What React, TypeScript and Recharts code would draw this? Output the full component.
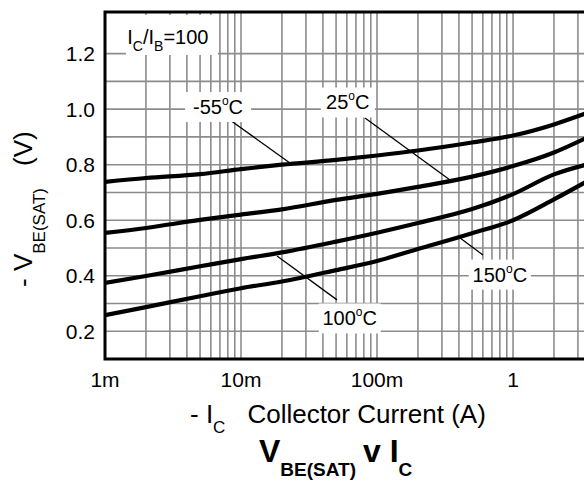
import React from "react";
import {
  LineChart,
  Line,
  XAxis,
  YAxis,
  CartesianGrid,
  ReferenceArea,
  ReferenceLine,
  ReferenceDot,
} from "recharts";

const FONT = "'Liberation Sans', Arial, Helvetica, sans-serif";

// collector current (A), log axis
const currents = [0.001, 0.002, 0.005, 0.01, 0.02, 0.05, 0.1, 0.2, 0.5, 1, 2, 3.44];
// -VBE(SAT) (V) per temperature
const vbeMinus55 = [0.738, 0.752, 0.766, 0.784, 0.8, 0.817, 0.833, 0.851, 0.88, 0.905, 0.945, 0.985];
const vbe25 = [0.554, 0.572, 0.601, 0.62, 0.639, 0.673, 0.695, 0.72, 0.757, 0.795, 0.844, 0.896];
const vbe100 = [0.374, 0.399, 0.434, 0.46, 0.484, 0.523, 0.555, 0.59, 0.64, 0.694, 0.765, 0.8];
const vbe150 = [0.258, 0.287, 0.326, 0.355, 0.379, 0.42, 0.453, 0.496, 0.553, 0.6, 0.675, 0.738];

const xTicks = [
  0.001, 0.002, 0.003, 0.004, 0.005, 0.006, 0.007, 0.008, 0.009,
  0.01, 0.02, 0.03, 0.04, 0.05, 0.06, 0.07, 0.08, 0.09,
  0.1, 0.2, 0.3, 0.4, 0.5, 0.6, 0.7, 0.8, 0.9,
  1, 2, 3,
];
const xTickLabels: Record<string, string> = { "0.001": "1m", "0.01": "10m", "0.1": "100m", "1": "1" };
const yTicks = [0.2, 0.3, 0.4, 0.5, 0.6, 0.7, 0.8, 0.9, 1.0, 1.1, 1.2];
const yTickLabels = ["0.2", "0.4", "0.6", "0.8", "1.0", "1.2"];

const X_DOMAIN = [0.001, 3.44];
const Y_DOMAIN = [0.1, 1.35];

// temperature callouts: label anchor (text centre) and leader line end on curve
const tempLabels = ["-55", "25", "100", "150"];
const labelAt = [
  { ic: 0.00678, v: 1.008 },
  { ic: 0.061, v: 1.024 },
  { ic: 0.063, v: 0.246 },
  { ic: 0.8, v: 0.404 },
];
const leaderFrom = [
  { ic: 0.0083, v: 0.961 },
  { ic: 0.0816, v: 0.968 },
  { ic: 0.0508, v: 0.313 },
  { ic: 0.601, v: 0.475 },
];
const leaderTo = [
  { ic: 0.0229, v: 0.806 },
  { ic: 0.344, v: 0.745 },
  { ic: 0.0184, v: 0.471 },
  { ic: 0.408, v: 0.536 },
];
const labelBoxW = [66, 54, 62, 62];

const data = currents.map((ic, i) => ({
  ic,
  m55: vbeMinus55[i],
  t25: vbe25[i],
  t100: vbe100[i],
  t150: vbe150[i],
}));

function TempLabel(props: any) {
  const { cx, cy, text, w } = props;
  if (cx == null || cy == null) return null;
  return (
    <g>
      <rect x={cx - w / 2} y={cy - 15} width={w} height={30} fill="#fff" />
      <text x={cx} y={cy + 7} textAnchor="middle" fontFamily={FONT} fontSize={20} fill="#000">
        {text}
        <tspan fontSize={12} dy={-9}>o</tspan>
        <tspan dy={9}>C</tspan>
      </text>
    </g>
  );
}

function RatioLabel(props: any) {
  const { cx, cy } = props;
  if (cx == null || cy == null) return null;
  return (
    <g>
      <rect x={cx - 42} y={cy - 22} width={92} height={40} fill="#fff" />
      <text x={cx} y={cy + 7} textAnchor="middle" fontFamily={FONT} fontSize={20} fill="#000">
        I
        <tspan fontSize={14} dy={7}>C</tspan>
        <tspan dy={-7}>/I</tspan>
        <tspan fontSize={14} dy={7}>B</tspan>
        <tspan dy={-7}>=100</tspan>
      </text>
    </g>
  );
}

function XTitles() {
  return (
    <g fontFamily={FONT} fill="#000">
      <text x={190} y={423} fontSize={26}>
        - I
        <tspan fontSize={17} dy={10}>C</tspan>
        <tspan dy={-10} dx={22}>Collector Current (A)</tspan>
      </text>
      <text x={259} y={462} fontSize={32} fontWeight="bold">
        V
        <tspan fontSize={19} dy={14}>BE(SAT)</tspan>
        <tspan dy={-14} dx={7}>v I</tspan>
        <tspan fontSize={19} dy={14}>C</tspan>
      </text>
    </g>
  );
}

function YTitle() {
  return (
    <text
      transform="translate(32 287) rotate(-90)"
      fontFamily={FONT}
      fontSize={26}
      fill="#000"
    >
      - V
      <tspan fontSize={17} dy={13}>BE(SAT)</tspan>
      <tspan dy={-13} dx={22}>(V)</tspan>
    </text>
  );
}

export default function App() {
  return (
    <div
      style={{
        position: "absolute",
        left: 0,
        top: 0,
        width: 584,
        height: 483,
        overflow: "hidden",
        background: "#fff",
        fontFamily: FONT,
      }}
    >
      <LineChart
        width={586}
        height={483}
        data={data}
        margin={{ top: 12, right: 0, left: 45, bottom: 84 }}
      >
        <CartesianGrid stroke="#8c8c8c" strokeWidth={1.6} />
        <XAxis
          dataKey="ic"
          type="number"
          scale="log"
          domain={X_DOMAIN}
          allowDataOverflow
          ticks={xTicks}
          interval={0}
          tickFormatter={(v: number) => xTickLabels[String(v)] ?? ""}
          axisLine={false}
          tickLine={false}
          tickSize={0}
          tickMargin={13}
          height={40}
          tick={{ fill: "#000", fontSize: 21, fontFamily: FONT }}
          label={<XTitles />}
        />
        <YAxis
          type="number"
          domain={Y_DOMAIN}
          allowDataOverflow
          ticks={yTicks}
          interval={0}
          tickFormatter={(v: number) => (yTickLabels.includes(v.toFixed(1)) ? v.toFixed(1) : "")}
          axisLine={false}
          tickLine={false}
          tickSize={0}
          tickMargin={10}
          width={60}
          tick={{ fill: "#000", fontSize: 21, fontFamily: FONT }}
          label={<YTitle />}
        />
        {tempLabels.map((_, i) => (
          <ReferenceLine
            key={"ld" + i}
            segment={[
              { x: leaderFrom[i].ic, y: leaderFrom[i].v },
              { x: leaderTo[i].ic, y: leaderTo[i].v },
            ]}
            stroke="#000"
            strokeWidth={1.3}
          />
        ))}
        <Line type="monotone" dataKey="m55" stroke="#000" strokeWidth={4.2} dot={false} isAnimationActive={false} />
        <Line type="monotone" dataKey="t25" stroke="#000" strokeWidth={4.2} dot={false} isAnimationActive={false} />
        <Line type="monotone" dataKey="t100" stroke="#000" strokeWidth={4.2} dot={false} isAnimationActive={false} />
        <Line type="monotone" dataKey="t150" stroke="#000" strokeWidth={4.2} dot={false} isAnimationActive={false} />
        <ReferenceArea
          x1={X_DOMAIN[0]}
          x2={X_DOMAIN[1]}
          y1={Y_DOMAIN[0]}
          y2={Y_DOMAIN[1]}
          fill="none"
          fillOpacity={0}
          stroke="#000"
          strokeWidth={3}
        />
        <ReferenceDot
          x={0.0029}
          y={1.26}
          r={0}
          shape={(p: any) => <RatioLabel {...p} />}
        />
        {tempLabels.map((t, i) => (
          <ReferenceDot
            key={"lb" + i}
            x={labelAt[i].ic}
            y={labelAt[i].v}
            r={0}
            shape={(p: any) => <TempLabel {...p} text={t} w={labelBoxW[i]} />}
          />
        ))}
      </LineChart>
    </div>
  );
}
